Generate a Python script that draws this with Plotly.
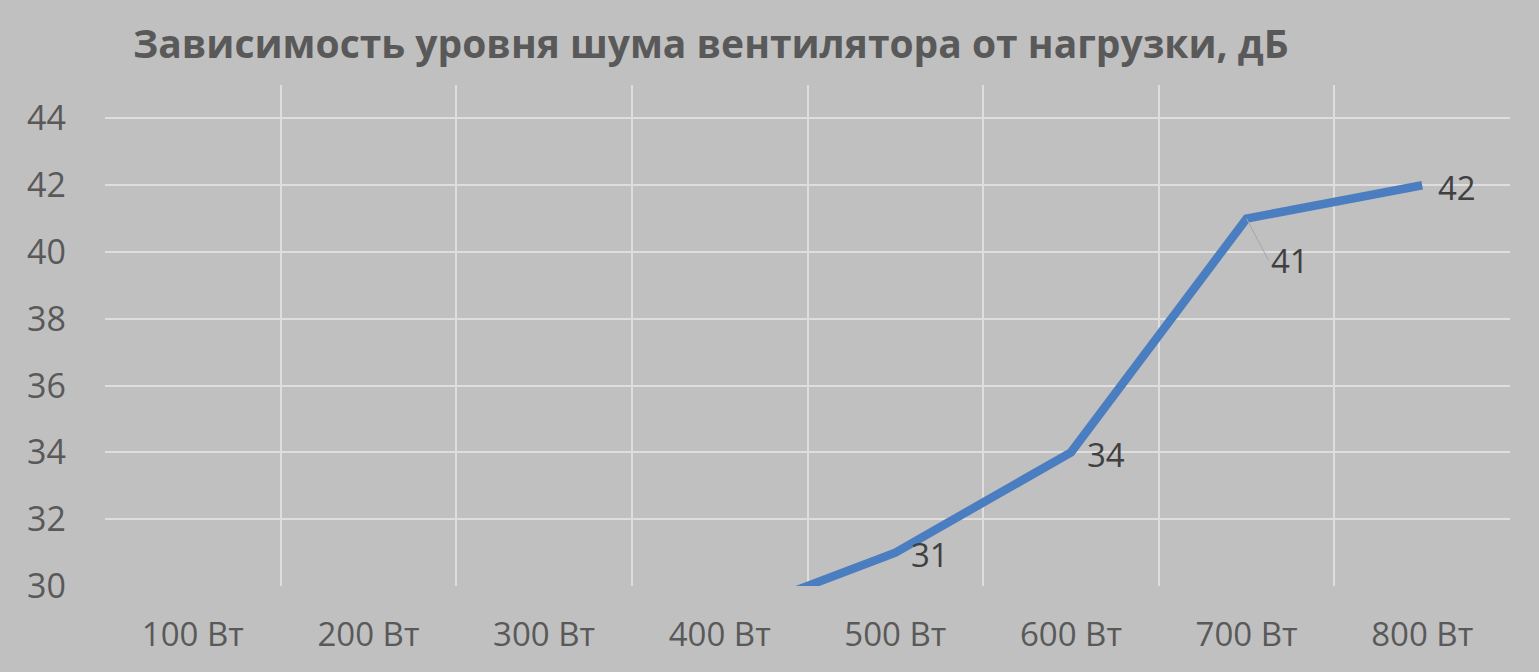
import plotly.graph_objects as go

# Fan noise level vs. load (values below 30 dB are clipped by the axis)
loads = ["100 Вт", "200 Вт", "300 Вт", "400 Вт", "500 Вт", "600 Вт", "700 Вт", "800 Вт"]
noise_db = [24, 25, 27, 29, 31, 34, 41, 42]
y_min = 30
y_max = 45

title_text = "Зависимость уровня шума вентилятора от нагрузки, дБ"

line_color = "#4A7EC1"
bg_color = "#C0C0C0"
grid_color = "#DEDEDE"
text_color = "#595959"
label_color = "#404040"
font_family = "Open Sans"

fig = go.Figure()

fig.add_trace(go.Scatter(
    x=loads,
    y=noise_db,
    mode="lines",
    line=dict(color=line_color, width=8.5),
    hoverinfo="x+y",
    showlegend=False,
))

# Data labels, Excel style: only the ones inside the visible range
for cat, val in zip(loads, noise_db):
    if val < y_min:
        continue
    if cat == "700 Вт":
        # this label sits below the point with a little leader line
        fig.add_annotation(
            x=cat, y=val, text=str(val),
            showarrow=True, arrowhead=0, arrowwidth=1, arrowcolor="#A6A6A6",
            ax=22, ay=42, xanchor="left", yanchor="middle",
            font=dict(family=font_family, size=33, color=label_color),
        )
    else:
        fig.add_annotation(
            x=cat, y=val, text=str(val),
            showarrow=False, xanchor="left", yanchor="middle",
            xshift=14, yshift=-2,
            font=dict(family=font_family, size=33, color=label_color),
        )

fig.update_layout(
    width=1539,
    height=672,
    paper_bgcolor=bg_color,
    plot_bgcolor=bg_color,
    margin=dict(l=105, r=29, t=85, b=86),
    title=dict(
        text="<b>" + title_text + "</b>",
        x=133 / 1539, xanchor="left",
        y=1 - 44 / 672, yanchor="middle",
        font=dict(family=font_family, size=39, color=text_color),
    ),
    xaxis=dict(
        type="category",
        range=[-0.5, len(loads) - 0.5],
        tickson="boundaries",
        showgrid=True,
        gridcolor=grid_color,
        gridwidth=2,
        showline=False,
        zeroline=False,
        ticks="",
        ticklabelstandoff=26,
        tickfont=dict(family=font_family, size=33, color=text_color),
    ),
    yaxis=dict(
        range=[y_min, y_max],
        tick0=y_min,
        dtick=2,
        showgrid=True,
        gridcolor=grid_color,
        gridwidth=2,
        zeroline=False,
        showline=False,
        ticks="",
        ticklabelstandoff=38,
        tickfont=dict(family=font_family, size=34, color=text_color),
    ),
)

# drop the page's default body margin so the chart fills the window
fig.write_html("out.html", config={"displayModeBar": False},
               post_script="document.body.style.margin = '0';")
